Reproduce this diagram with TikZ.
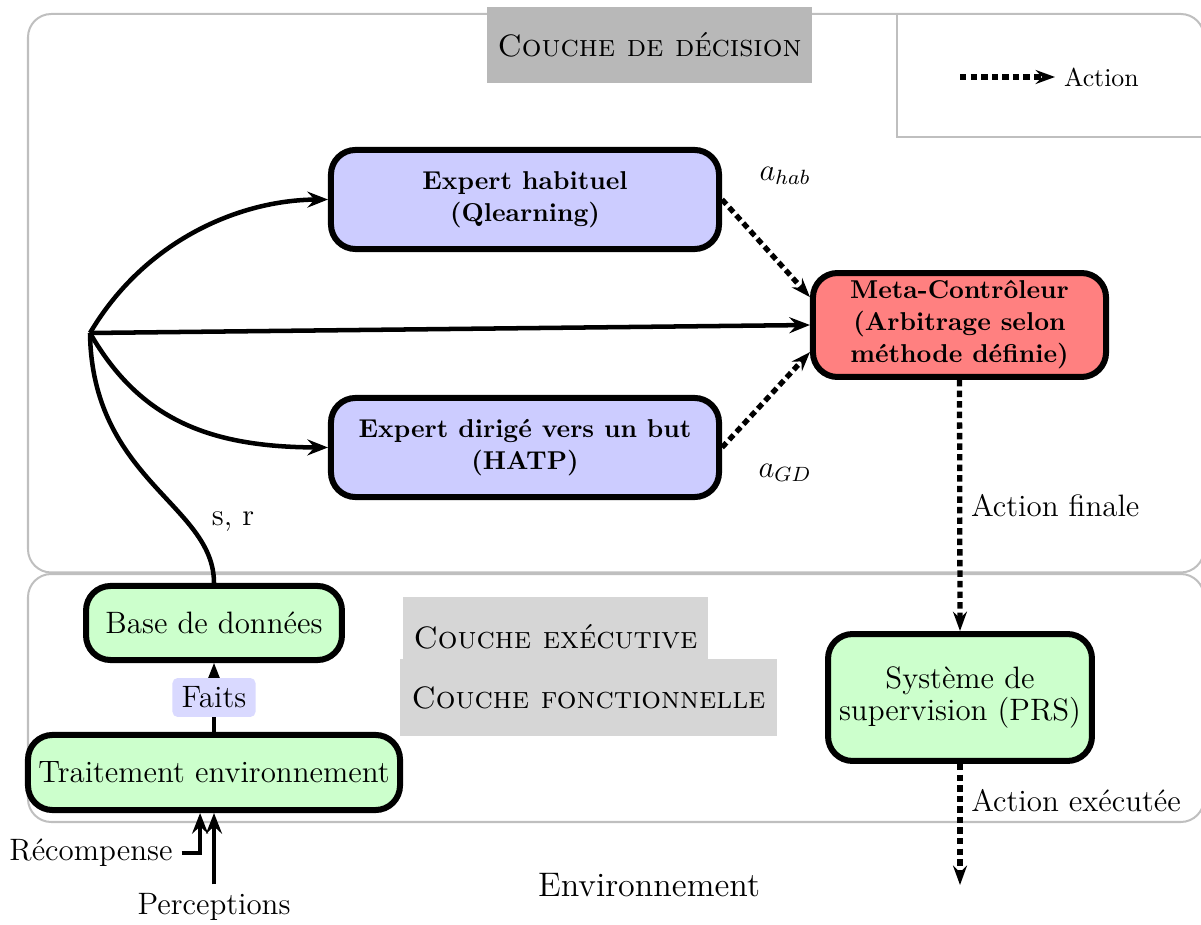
\documentclass[tikz,border=0pt]{standalone}
\usetikzlibrary{arrows.meta,calc}

\begin{document}
\begin{tikzpicture}[x=0.3876pt,y=-0.3876pt,
  layer/.style={draw=black!25, line width=0.78pt, rounded corners=9pt},
  tag/.style={inner sep=0pt, font=\large\scshape},
  box/.style={draw=black, line width=2.33pt, rounded corners=9.5pt, align=center, inner sep=1pt},
  expert/.style={box, fill=blue!20, minimum width=150.4pt, minimum height=38.4pt,
                 font=\fontsize{10}{12.4}\selectfont\bfseries},
  metabox/.style={box, fill=red!50, minimum width=113.6pt, minimum height=40.3pt,
                 font=\fontsize{10}{12.4}\selectfont\bfseries},
  module/.style={box, fill=green!20, font=\fontsize{12}{12.4}\selectfont},
  tip/.style={-{Stealth[length=8pt,width=6.2pt,inset=2.8pt]}},
  conn/.style={line width=1.75pt, tip},
  actline/.style={line width=2.05pt, dash pattern=on 2.5pt off 1.6pt,
                  -{Stealth[length=7.5pt,width=5.4pt,inset=2.6pt]}},
  lbl/.style={font=\large},
]
\useasboundingbox (0,0) rectangle (1201,925);

% layers
\draw[layer] (28,14) rectangle (1204,572.5);
\draw[layer] (28,574) rectangle (1204,822);
\draw[draw=black!25, line width=0.78pt] (1204,137) -- (897,137) -- (897,14);

% layer titles
\node[tag, fill=black!28, minimum width=126pt, minimum height=29.5pt] (tdec) at (649.5,45) {Couche de décision};
\node[tag, fill=black!16, minimum width=118.2pt, minimum height=31pt] (texe) at (555.5,637) {Couche exécutive};
\node[tag, fill=black!16, minimum width=146.1pt, minimum height=29.8pt] (tfon) at (588.5,697.5) {Couche fonctionnelle};

% legend
\coordinate (lgA) at (960,77);
\node[anchor=west] (lgT) at (1055,77) {Action};
\draw[actline] (lgA) -- (lgT.west);

% decision layer
\node[expert] (hab) at (525,199.5) {Expert habituel\\(Qlearning)};
\node[expert] (gd) at (525,447.5) {Expert dirigé vers un but\\(HATP)};
\node[metabox] (meta) at (959.5,325) {Meta-Contrôleur\\(Arbitrage selon\\méthode définie)};

% executive / functional layers
\node[module, minimum width=99.2pt, minimum height=28.7pt] (bdd) at (214,623) {Base de données};
\node[module, minimum width=144.2pt, minimum height=29.1pt] (trt) at (214,772.5) {Traitement environnement};
\node[module, minimum width=102.3pt, minimum height=49.2pt] (prs) at (960,697.5) {Système de\\supervision (PRS)};

% state and reward dispatch
\coordinate (hub) at (90,333);
\draw[line width=1.75pt] (bdd.north) .. controls (214,505) and (92,480) .. (hub);
\node[lbl] (sr) at (233,522) {s, r};
\draw[conn] (hub) .. controls (145,240) and (240,200) .. (hab.west);
\draw[conn] (hub) -- (meta.west);
\draw[conn] (hub) .. controls (140,420) and (210,447) .. (gd.west);

% expert proposals
\draw[actline] (hab.east) -- ([yshift=10.8pt]meta.west);
\draw[actline] (gd.east) -- ([yshift=-10.5pt]meta.west);
\node[lbl] (ahab) at (785,176) {$a_{hab}$};
\node[lbl] (agd) at (785,473) {$a_{GD}$};

% final action
\coordinate (out) at (960,885);
\draw[actline] (meta.south) -- node[lbl, right, pos=0.5] (afin) {Action finale} (prs.north);
\draw[actline] (prs.south) -- node[lbl, right, pos=0.3] (aexe) {Action exécutée} (out);

% facts and inputs
\draw[conn] (trt.north) -- node[fill=blue!15, rounded corners=2pt, inner sep=0pt,
  minimum width=32.2pt, minimum height=15.1pt, lbl] (faits) {Faits} (bdd.south);
\node[lbl] (rec) at (91,853) {Récompense};
\node[lbl] (perc) at (214,907) {Perceptions};
\draw[conn] (rec.east) -| ([xshift=-5.4pt]trt.south);
\draw[conn] (perc.north) -- (trt.south);

\node (env) at (649,885) {\fontsize{13.2}{16}\selectfont Environnement};
\end{tikzpicture}
\end{document}
